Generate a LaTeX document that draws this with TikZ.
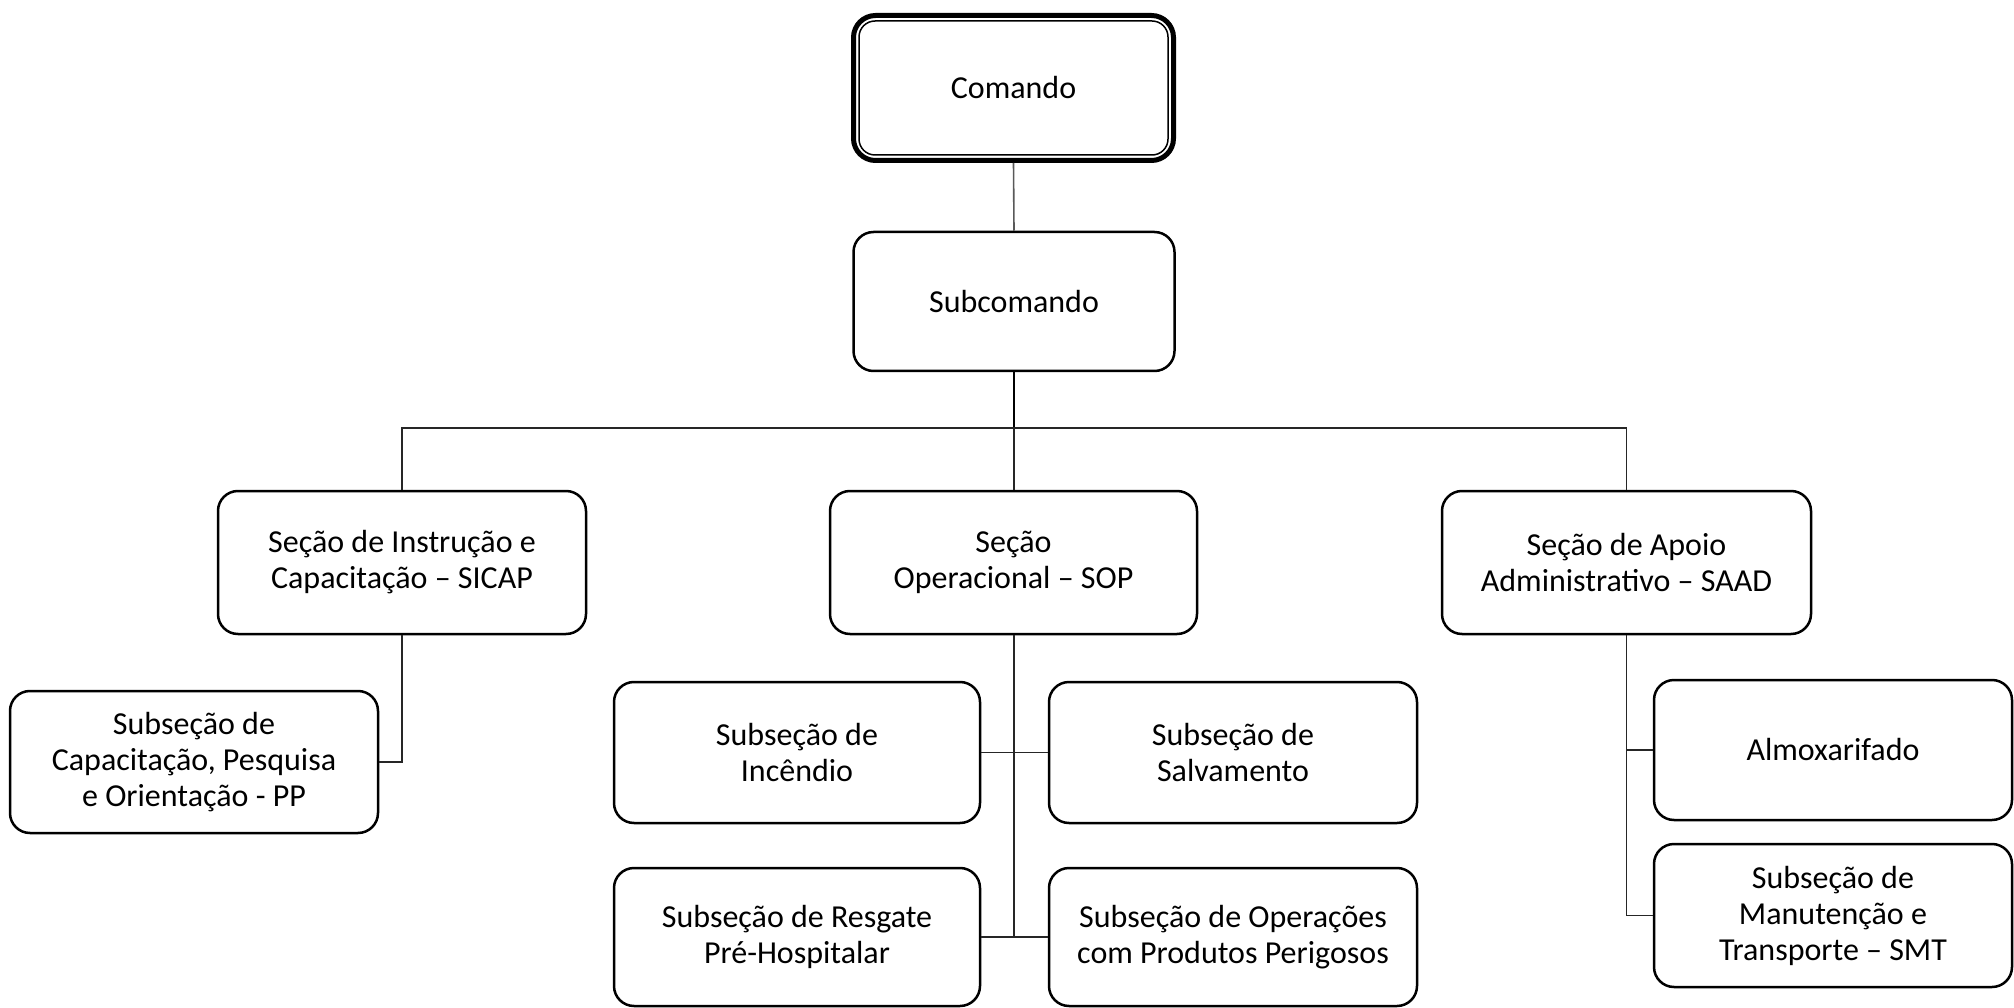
\documentclass[tikz,border=0pt]{standalone}
\usepackage{fontspec}
\setmainfont{Carlito}
\begin{document}
\begin{tikzpicture}[x=1pt,y=-1pt]
\tikzset{
  box/.style={draw, line width=2.5pt, rounded corners=20pt, align=center,
    font=\fontsize{32}{36}\selectfont, inner sep=0pt},
  conn/.style={line width=1.6pt, draw=black!85},
}
\useasboundingbox (0,0) rectangle (2014,1008);
% top
\node[draw, line width=5pt, rounded corners=22pt, minimum width=320pt, minimum height=145pt,
  font=\fontsize{32}{36}\selectfont] (cmd) at (1013.5,88) {Comando};
\node[draw, line width=1.5pt, rounded corners=16pt, minimum width=309pt, minimum height=134pt] (cmdin) at (1013.5,88) {};
\node[box, minimum width=321pt, minimum height=139pt] (sub) at (1014,301.5) {Subcomando};
% sections
\node[box, minimum width=368pt, minimum height=143pt] (sicap) at (402,562.5) {Seção de Instrução e\\Capacitação – SICAP};
\node[box, minimum width=367pt, minimum height=143pt] (sop) at (1013.5,562.5) {Seção\\Operacional – SOP};
\node[box, minimum width=369pt, minimum height=143pt] (saad) at (1626.5,562.5) {Seção de Apoio\\Administrativo – SAAD};
% subsections
\node[box, minimum width=368pt, minimum height=142pt] (pp) at (194,762) {Subseção de\\Capacitação, Pesquisa\\e Orientação - PP};
\node[box, minimum width=366pt, minimum height=141pt] (inc) at (797,752.5) {Subseção de\\Incêndio};
\node[box, minimum width=368pt, minimum height=141pt] (salv) at (1233,752.5) {Subseção de\\Salvamento};
\node[box, minimum width=366pt, minimum height=138pt] (resg) at (797,937) {Subseção de Resgate\\Pré-Hospitalar};
\node[box, minimum width=368pt, minimum height=138pt] (perig) at (1233,937) {Subseção de Operações\\com Produtos Perigosos};
\node[box, minimum width=358pt, minimum height=140pt] (almox) at (1833,750) {Almoxarifado};
\node[box, minimum width=358pt, minimum height=143pt] (smt) at (1833,915.5) {Subseção de\\Manutenção e\\Transporte – SMT};
% connectors
\coordinate (bus) at (1014,428);
\draw[conn, draw=black!65] (cmd.south) -- (sub.north);
\draw[conn, line width=2.8pt, draw=black] (sub.south) -- (bus);
\draw[conn] (sicap.north) |- (bus) -| (saad.north);
\draw[conn] (bus) -- (bus |- sop.north);
\draw[conn] (sicap.south) |- (pp.east);
\draw[conn] (bus |- sop.south) -- (bus |- resg.east);
\draw[conn] (inc.east) -- (salv.west);
\draw[conn] (resg.east) -- (perig.west);
\draw[conn] (saad.south) |- (smt.west);
\draw[conn] (saad.south |- almox.west) -- (almox.west);
\end{tikzpicture}
\end{document}
